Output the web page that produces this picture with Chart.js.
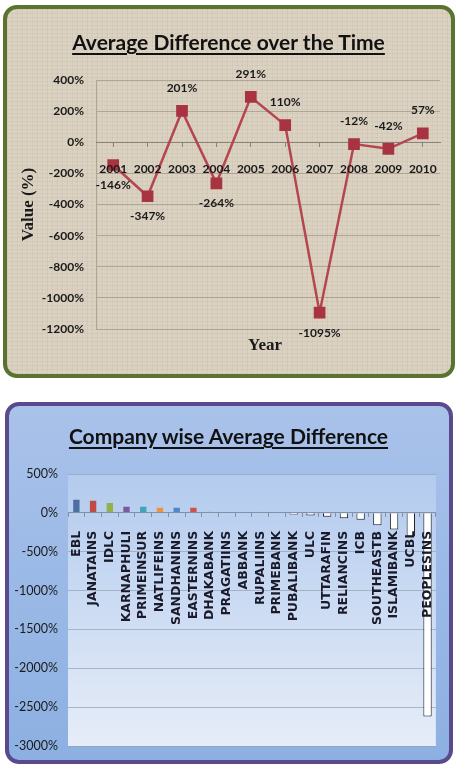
<!DOCTYPE html>
<html>
<head>
<meta charset="utf-8">
<title>Average Difference</title>
<script src="https://cdn.jsdelivr.net/npm/chart.js@4.4.1/dist/chart.umd.min.js"></script>
<style>
  body { margin: 0; width: 457px; height: 765px; background: #fff; position: relative; overflow: hidden; }
  .panel { position: absolute; box-sizing: border-box; border-radius: 14px; }
  #panelTop {
    left: 3px; top: 5px; width: 452px; height: 373px;
    border: 4px solid #5a7430;
    background:
      repeating-linear-gradient(90deg, rgba(110,90,60,0.06) 0 1px, rgba(255,255,255,0.06) 1px 2px, transparent 2px 5px),
      repeating-linear-gradient(0deg, rgba(110,90,60,0.06) 0 1px, transparent 1px 4px),
      #dad1c1;
  }
  #panelBottom {
    left: 5px; top: 402px; width: 448px; height: 362px;
    border: 4px solid #5b4a8b;
    background: linear-gradient(#a9c2ea, #8cb0e2);
  }
  canvas { position: absolute; left: 0; }
  #topChart { top: 0; }
  #bottomChart { top: 400px; }
  .title {
    position: absolute; left: 0; width: 457px; text-align: center;
    font-family: Lato, sans-serif;
    font-weight: bold; font-size: 21px; color: #111; line-height: 28px;
    text-decoration: underline; text-decoration-thickness: 2px; text-underline-offset: 3px;
  }
  .axisTitle {
    position: absolute; font-family: 'Liberation Serif', serif; font-weight: bold;
    font-size: 17px; color: #1a1a1a; line-height: 20px;
  }
</style>
</head>
<body>
<div class="panel" id="panelTop"></div>
<div class="panel" id="panelBottom"></div>
<canvas id="topChart" width="457" height="380"></canvas>
<canvas id="bottomChart" width="457" height="365"></canvas>
<div class="title" style="top:28px">Average Difference over the Time</div>
<div class="axisTitle" style="left:248px; top:335px">Year</div>
<div class="title" style="top:422px">Company wise Average Difference</div>
<script>
// yearly average difference (%)
const years = ['2001', '2002', '2003', '2004', '2005', '2006', '2007', '2008', '2009', '2010'];
const avgDiff = [-146, -347, 201, -264, 291, 110, -1095, -12, -42, 57];

// company wise average difference (%)
const companies = ['EBL', 'JANATAINS', 'IDLC', 'KARNAPHULI', 'PRIMEINSUR', 'NATLIFEINS',
  'SANDHANINS', 'EASTERNINS', 'DHAKABANK', 'PRAGATIINS', 'ABBANK', 'RUPALIINS', 'PRIMEBANK',
  'PUBALIBANK', 'ULC', 'UTTARAFIN', 'RELIANCINS', 'ICB', 'SOUTHEASTB', 'ISLAMIBANK', 'UCBL',
  'PEOPLESINS'];
const companyDiff = [180, 170, 140, 90, 90, 80, 80, 80, 25, 15, 12, 20, -5, -20, -35, -50,
  -70, -90, -160, -215, -305, -2620];

const barColors = ['#4f6fa0', '#c24a45', '#94b04e', '#7a5b9c', '#3fa6b8', '#f0923a', '#4f88c8',
  '#d4504a', '#a6c46a', '#8e74b0', '#5fb8cc', '#f5a860', '#6a94cc', '#2c4d75'];

const tickFont = { family: 'Lato', size: 12, weight: 'bold' };

// value labels above / below the line points
const pointLabels = {
  id: 'pointLabels',
  afterDatasetsDraw(chart) {
    const ctx = chart.ctx;
    const meta = chart.getDatasetMeta(0);
    ctx.save();
    ctx.font = 'bold 12px Lato';
    ctx.fillStyle = '#1a1a1a';
    ctx.textAlign = 'center';
    ctx.textBaseline = 'middle';
    meta.data.forEach((pt, i) => {
      const v = avgDiff[i];
      const dy = v > -100 ? -23 : 20;
      ctx.fillText(v + '%', pt.x, pt.y + dy);
    });
    ctx.restore();
  }
};

new Chart(document.getElementById('topChart'), {
  type: 'line',
  data: {
    labels: years,
    datasets: [{
      data: avgDiff,
      borderColor: '#b5464f',
      borderWidth: 2.5,
      pointStyle: 'rect',
      pointRadius: 6.5,
      pointBackgroundColor: '#a83341',
      pointBorderColor: '#a83341',
      tension: 0,
    }],
  },
  options: {
    responsive: false,
    animation: false,
    layout: { padding: { left: 0, right: 17, top: 80, bottom: 51 } },
    plugins: { legend: { display: false }, tooltip: { enabled: false } },
    scales: {
      x: {
        position: { y: 0 },
        offset: true,
        afterFit: (s) => { s.height = 0; },
        grid: { drawOnChartArea: false, tickLength: 4, color: '#8a8478' },
        border: { color: '#8a8478' },
        ticks: { z: 1, font: tickFont, color: '#1a1a1a', padding: 16, autoSkip: false, maxRotation: 0 },
      },
      y: {
        min: -1200,
        max: 400,
        afterFit: (s) => { s.width = 96; },
        grid: { drawTicks: false, color: 'rgba(135,125,110,0.5)' },
        border: { color: 'rgba(135,125,110,0.5)' },
        ticks: { stepSize: 200, font: tickFont, color: '#1a1a1a', padding: 12, callback: (v) => v + '%' },
        title: {
          display: true, text: 'Value (%)', color: '#1a1a1a',
          font: { family: 'Liberation Serif', size: 17, weight: 'bold' },
          padding: { top: 18, bottom: 0 },
        },
      },
    },
  },
  plugins: [pointLabels],
});

// light gradient behind the bar plot area
const plotBackground = {
  id: 'plotBackground',
  beforeDraw(chart) {
    const { ctx, chartArea: a } = chart;
    const g = ctx.createLinearGradient(0, a.top, 0, a.bottom);
    g.addColorStop(0, '#b3cbee');
    g.addColorStop(1, '#e6edf8');
    ctx.save();
    ctx.fillStyle = g;
    ctx.fillRect(a.left, a.top, a.right - a.left, a.bottom - a.top);
    ctx.restore();
  }
};

new Chart(document.getElementById('bottomChart'), {
  type: 'bar',
  data: {
    labels: companies,
    datasets: [{
      data: companyDiff,
      backgroundColor: companyDiff.map((v, i) => v < 0 ? '#ffffff' : barColors[i]),
      borderColor: companyDiff.map((v) => v < 0 ? '#222222' : 'rgba(0,0,0,0)'),
      borderWidth: 1,
      barPercentage: 0.5,
      categoryPercentage: 1,
    }],
  },
  options: {
    responsive: false,
    animation: false,
    layout: { padding: { left: 0, right: 21, top: 74, bottom: 19 } },
    plugins: { legend: { display: false }, tooltip: { enabled: false } },
    scales: {
      x: {
        position: { y: 0 },
        afterFit: (s) => { s.height = 0; },
        grid: { drawOnChartArea: false, tickLength: 4, color: '#8390a6' },
        border: { color: '#8390a6' },
        ticks: {
          z: 1,
          font: { family: 'DejaVu Sans', size: 12.5, weight: 'bold' }, color: '#1a1a2a',
          padding: 14, autoSkip: false, minRotation: 90, maxRotation: 90,
        },
      },
      y: {
        min: -3000,
        max: 500,
        afterFit: (s) => { s.width = 68; },
        grid: { drawTicks: false, color: 'rgba(150,160,180,0.7)' },
        border: { display: false },
        ticks: { stepSize: 500, font: { family: 'Lato', size: 12.5 }, color: '#1a1a1a', padding: 10, callback: (v) => v + '%' },
      },
    },
  },
  plugins: [plotBackground],
});
</script>
</body>
</html>
